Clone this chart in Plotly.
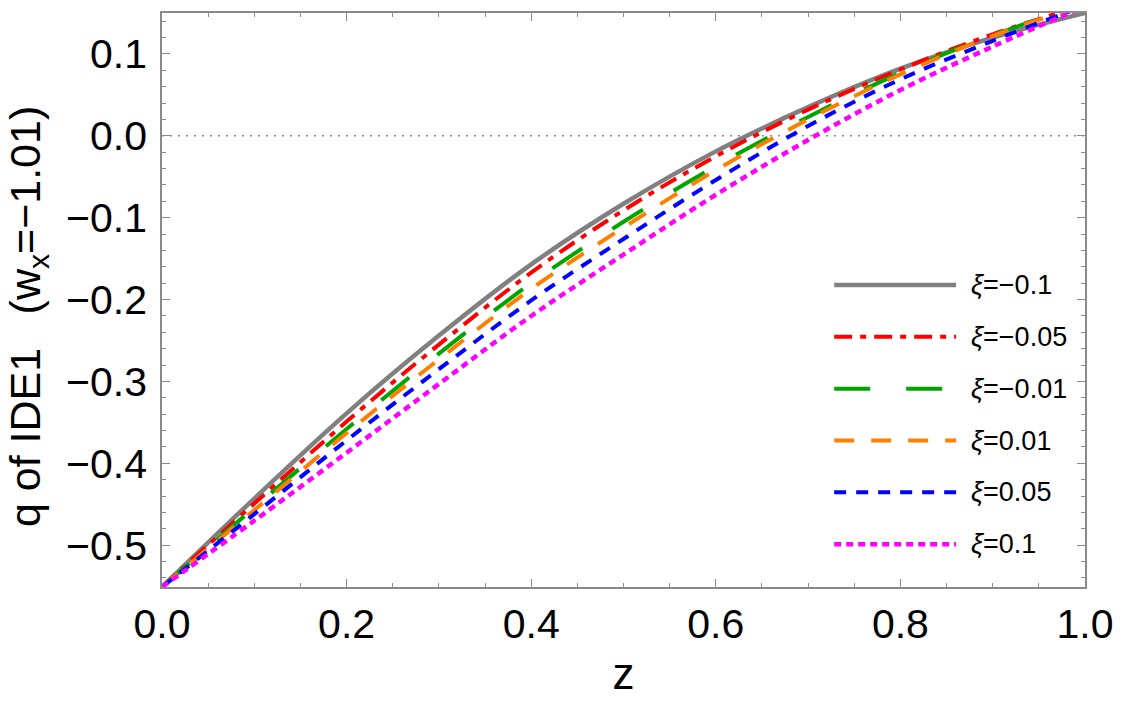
import plotly.graph_objects as go

# ---- data ----
z = [0.0, 0.1, 0.2, 0.3, 0.4, 0.5, 0.6, 0.7, 0.8, 0.9, 1.0]
q_xi_m010 = [-0.551, -0.443, -0.339, -0.244, -0.157, -0.083, -0.019, 0.035, 0.082, 0.120, 0.150]
q_xi_m005 = [-0.551, -0.449, -0.349, -0.255, -0.167, -0.091, -0.025, 0.032, 0.081, 0.124, 0.160]
q_xi_m001 = [-0.551, -0.454, -0.358, -0.266, -0.180, -0.105, -0.037, 0.023, 0.077, 0.123, 0.160]
q_xi_p001 = [-0.551, -0.457, -0.363, -0.273, -0.187, -0.112, -0.042, 0.020, 0.075, 0.122, 0.160]
q_xi_p005 = [-0.551, -0.462, -0.372, -0.285, -0.201, -0.126, -0.054, 0.012, 0.069, 0.116, 0.159]
q_xi_p010 = [-0.551, -0.470, -0.387, -0.303, -0.220, -0.145, -0.072, -0.005, 0.056, 0.109, 0.158]

series = [q_xi_m010, q_xi_m005, q_xi_m001, q_xi_p001, q_xi_p005, q_xi_p010]
labels = ["<i>ξ</i>=−0.1", "<i>ξ</i>=−0.05", "<i>ξ</i>=−0.01",
          "<i>ξ</i>=0.01", "<i>ξ</i>=0.05", "<i>ξ</i>=0.1"]

x_ticks = [0.0, 0.2, 0.4, 0.6, 0.8, 1.0]
x_ticktext = ["0.0", "0.2", "0.4", "0.6", "0.8", "1.0"]
y_ticks = [-0.5, -0.4, -0.3, -0.2, -0.1, 0.0, 0.1]
y_ticktext = ["−0.5", "−0.4", "−0.3", "−0.2", "−0.1", "0.0", "0.1"]

# ---- styles ----
colors = ["#808080", "#FF0000", "#00A600", "#FF8000", "#0000FF", "#FF00FF"]
dashes = ["solid", "18px,8px,6px,8px", "36px,36px", "20px,17px", "12px,10px", "7px,5px"]
widths = [4.5, 4, 4, 4, 4, 4.5]

FONT = "Liberation Sans, Arial, Helvetica, sans-serif"
FRAME = "#8a8a8a"

fig = go.Figure()
for q, c, d, w, lab in zip(series, colors, dashes, widths, labels):
    fig.add_trace(go.Scatter(
        x=z, y=q, mode="lines", name=lab, showlegend=False,
        line=dict(color=c, dash=d, width=w, shape="spline", smoothing=1.0),
    ))

# dotted reference line at q = 0
fig.add_shape(type="line", xref="paper", yref="y", x0=0, x1=1, y0=0, y1=0,
              line=dict(color="#555555", width=1, dash="2px,6px"), layer="below")

# manual legend (long line samples as in the reference)
W, H = 1125, 713
ml, mr, mt, mb = 162, 32, 11, 126
pw, ph = W - ml - mr, H - mt - mb
def px_x(p):
    return (p - ml) / pw
def px_y(p):
    return (H - mb - p) / ph

leg_x0, leg_x1, leg_tx = 840, 963, 976
leg_y0, leg_dy = 284, 52
for i, (c, d, w, lab) in enumerate(zip(colors, dashes, widths, labels)):
    yy = px_y(leg_y0 + i * leg_dy)
    fig.add_shape(type="line", xref="paper", yref="paper",
                  x0=px_x(leg_x0), x1=px_x(leg_x1), y0=yy, y1=yy,
                  line=dict(color=c, dash=d, width=w))
    fig.add_annotation(xref="paper", yref="paper", x=px_x(leg_tx), y=yy,
                       text=lab, showarrow=False, xanchor="left", yanchor="middle",
                       font=dict(family=FONT, size=27, color="black"))

# y-axis title
fig.add_annotation(xref="paper", yref="paper", x=px_x(27), y=px_y(316),
                   text="q of IDE1 \u2002(w<sub>x</sub>=−1.01)", textangle=-90,
                   showarrow=False, xanchor="center", yanchor="middle",
                   font=dict(family=FONT, size=43, color="black"))

fig.update_xaxes(
    range=[0, 1], showgrid=False, zeroline=False,
    showline=True, linecolor=FRAME, linewidth=1.5, mirror="ticks",
    ticks="inside", ticklen=8, tickcolor=FRAME, tickwidth=1,
    tickvals=x_ticks, ticktext=x_ticktext,
    tickfont=dict(family=FONT, size=41, color="black"),
    minor=dict(dtick=0.05, ticks="inside", ticklen=4, tickcolor=FRAME, tickwidth=1, showgrid=False),
    title=dict(text="z", font=dict(family=FONT, size=44, color="black"), standoff=12),
)
fig.update_yaxes(
    range=[-0.551, 0.15], showgrid=False, zeroline=False,
    showline=True, linecolor=FRAME, linewidth=1.5, mirror="ticks",
    ticks="inside", ticklen=8, tickcolor=FRAME, tickwidth=1,
    tickvals=y_ticks, ticktext=y_ticktext,
    tickfont=dict(family=FONT, size=41, color="black"),
    ticklabelstandoff=5,
    minor=dict(dtick=0.02, tick0=0, ticks="inside", ticklen=4, tickcolor=FRAME, tickwidth=1, showgrid=False),
)

fig.update_layout(
    width=W, height=H,
    margin=dict(l=ml, r=mr, t=mt, b=mb),
    paper_bgcolor="white", plot_bgcolor="white",
    showlegend=False,
)

fig.write_html("out.html")
